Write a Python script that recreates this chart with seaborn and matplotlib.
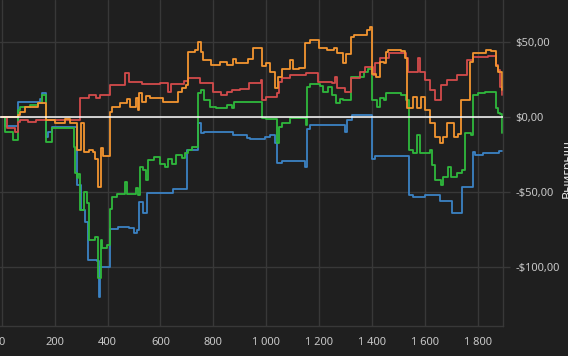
import pandas as pd
import seaborn as sns
import matplotlib.pyplot as plt
from matplotlib.ticker import FuncFormatter, MultipleLocator

# step breakpoints (trade number, cumulative win in $)
blue_x = [0, 12, 62, 145, 152, 167, 175, 190, 266, 285, 300, 315, 326, 360, 366, 372,
          409, 440, 480, 500, 511, 519, 534, 549, 648, 700, 742, 754, 765, 874, 927,
          939, 995, 1014, 1033, 1041, 1060, 1139, 1146, 1154, 1165, 1287, 1298, 1305,
          1324, 1400, 1411, 1540, 1555, 1600, 1657, 1702, 1740, 1782, 1789, 1819, 1880, 1891]
blue_y = [0, -6, 10, 12, 16, -13, -10, -6.5, -6.5, -45, -62, -70, -95, -96, -120, -100,
          -74.5, -73, -74, -77, -75, -56.5, -64, -50.5, -48, -22, -4, -10.5, -9.5, -12, -13.5,
          -14.5, -13, -12, -17, -30.5, -29, -29, -33, -7.5, -5, -5, -10, -2,
          1.5, -27.5, -26, -52, -53, -52, -56, -64, -46.5, -23, -25, -24, -22.5, -22.5]

green_x = [0, 12, 43, 62, 69, 107, 137, 152, 167, 190, 266, 273, 277, 285, 290, 296, 311,
           322, 330, 353, 364, 375, 381, 398, 409, 417, 436, 466, 474, 485, 508, 515, 523,
           535, 545, 553, 575, 600, 617, 630, 645, 660, 680, 693, 704, 720, 742, 755, 765,
           787, 810, 850, 870, 880, 960, 984, 1000, 1041, 1048, 1060, 1090, 1150, 1154,
           1165, 1203, 1215, 1235, 1250, 1265, 1280, 1290, 1320, 1370, 1385, 1400, 1419,
           1430, 1445, 1453, 1510, 1530, 1540, 1555, 1570, 1580, 1600, 1620, 1627, 1638,
           1660, 1668, 1687, 1700, 1720, 1740, 1751, 1775, 1782, 1800, 1827, 1869, 1876,
           1884, 1891]
green_y = [0, -10, -15, 5, 7, 8, 9.5, 15, -16.5, -7, -7, -20, -37, -40.5, -38, -62, -50,
           -57, -82, -80, -107, -82, -87, -85, -61, -53, -51, -43, -51, -51, -47, -52, -33,
           -35, -42, -28.5, -26.5, -31, -33, -28, -31, -25, -27, -24, -22, -20, 16, 18, 11.5,
           7, 6.5, 8, 6, 10, 10, -0.5, -1, -17, -6.5, -4, -0.5, -5, 20,
           22.5, 21, 17, 20, 15, 9.5, 12, 11.5, 27, 30, 32.5, 11.5, 7,
           13, 11.5, 16, 15, 11.5, -22, -24, -12, -24, -24, -22, -32, -42,
           -45, -40, -33, -40, -37, -35, -10.5, -12, 15, 16, 17, 6, 3,
           2, -10.5]

red_x = [0, 20, 50, 60, 69, 100, 130, 290, 296, 330, 355, 370, 409, 466, 480, 530, 600,
         630, 640, 690, 704, 750, 800, 830, 850, 870, 900, 935, 980, 984, 1000, 1041, 1048,
         1060, 1090, 1150, 1196, 1250, 1260, 1267, 1298, 1320, 1355, 1373, 1404, 1411,
         1430, 1465, 1530, 1536, 1575, 1581, 1600, 1619, 1638, 1660, 1684, 1720, 1760,
         1782, 1840, 1869, 1876, 1884, 1891]
red_y = [0, -7, -10, -3, -1.5, -3, -1.5, -1.5, 13, 15, 13, 15, 21.5, 29.5, 23.5, 22, 23,
         17, 22, 24, 26, 23, 17, 15, 17, 18, 19, 23, 25, 11.5, 13.5, 16, 23.5,
         26, 28, 29.5, 23.5, 23, 27, 19.5, 17, 26, 30, 33.5, 28, 36,
         39.5, 43, 39.5, 30, 39.5, 30, 25, 18, 11.5, 21.5, 25, 28, 38,
         40, 41, 35, 31.5, 20, 15]

orange_x = [0, 62, 69, 88, 137, 167, 200, 240, 260, 285, 300, 311, 330, 345, 353, 364,
            375, 383, 409, 417, 447, 474, 485, 508, 515, 519, 530, 545, 560, 610, 660, 667,
            680, 695, 704, 730, 742, 752, 761, 790, 825, 850, 875, 885, 930, 950, 984,
            1000, 1014, 1033, 1045, 1060, 1090, 1100, 1125, 1146, 1165, 1200, 1230, 1255,
            1267, 1290, 1300, 1320, 1330, 1380, 1392, 1400, 1415, 1430, 1445, 1453, 1460,
            1510, 1525, 1532, 1555, 1570, 1585, 1600, 1619, 1638, 1658, 1670, 1684, 1710,
            1725, 1736, 1770, 1782, 1830, 1850, 1869, 1876, 1891]
orange_y = [0, 1.5, 3.5, 7, 9.5, -2, -4, -1, -4, -22, -4, -23, -22, -23, -28, -46.5,
            -20.5, -26, 3.5, 7, 9.5, 12, 7, 13, 5, 16, 10, 14, 13, 10, 10, 17,
            19.5, 21.5, 43.5, 45, 50, 43.5, 38, 35, 37, 35, 39, 36, 39, 46, 34,
            36, 30, 19.5, 27, 32, 38, 32, 33, 49.5, 51.5, 46, 45, 46,
            43, 36, 42, 53.5, 55, 58, 60, 29, 27, 37, 36, 43.5, 45,
            44, 39.5, 6, 13.5, 6, 13.5, 5, -4, -13, -17, -13, -4, -13,
            -11, 11.5, 37, 43, 45, 44, 34, 30, 18]

series_names = ["Стратегия 1", "Стратегия 2", "Стратегия 3", "Стратегия 4"]
series_colors = ["#3b82c4", "#2fb83c", "#d34b4b", "#f39530"]

frames = []
for name, xs, ys in zip(series_names,
                        [blue_x, green_x, red_x, orange_x],
                        [blue_y, green_y, red_y, orange_y]):
    frames.append(pd.DataFrame({"trade": xs, "win": ys, "series": name}))
df = pd.concat(frames, ignore_index=True)

bg = "#1f1f1f"
grid_c = "#383838"
text_c = "#c8c8c8"

sns.set_style("dark", rc={"axes.facecolor": bg, "figure.facecolor": bg})
plt.rcParams["font.family"] = ["Noto Sans", "DejaVu Sans"]

fig = plt.figure(figsize=(5.68, 3.56), dpi=100)
ax = fig.add_axes([0, 30.3 / 356, 503 / 568, 325.7 / 356])

sns.lineplot(data=df, x="trade", y="win", hue="series", hue_order=series_names,
             palette=dict(zip(series_names, series_colors)), estimator=None,
             drawstyle="steps-post", linewidth=1.3, legend=False, ax=ax)
ax.axhline(0, color="white", lw=1.1, zorder=5)

ax.set_xlim(-6.4, 1895)
ax.set_ylim(-138.9, 78.2)
ax.xaxis.set_major_locator(MultipleLocator(200))
ax.yaxis.set_major_locator(MultipleLocator(50))
ax.xaxis.set_major_formatter(FuncFormatter(lambda v, p: f"{int(v):,}".replace(",", " ")))
ax.yaxis.set_major_formatter(FuncFormatter(
    lambda v, p: ("-" if v < 0 else "") + r"\$" + f"{abs(v):.2f}".replace(".", ",")))
ax.yaxis.tick_right()

ax.grid(True, color=grid_c, lw=1)
for side in ["top", "left"]:
    ax.spines[side].set_visible(False)
for side in ["right", "bottom"]:
    ax.spines[side].set_visible(True)
    ax.spines[side].set_color(grid_c)
    ax.spines[side].set_linewidth(1)
ax.tick_params(axis="both", colors=text_c, labelsize=8, length=5, width=1, color=grid_c)
ax.tick_params(axis="y", pad=4)
ax.tick_params(axis="x", pad=3)
ax.set_xlabel("")
ax.set_ylabel("")

# axis title sits at the right edge and is partly clipped, as in the original
fig.text(561 / 568, (356 - 198) / 356, "Выигрыш", rotation=90, ha="left", va="bottom",
         color="#e0e0e0", fontsize=9, fontweight="bold")

fig.savefig("out.png", dpi=100, facecolor=bg)
